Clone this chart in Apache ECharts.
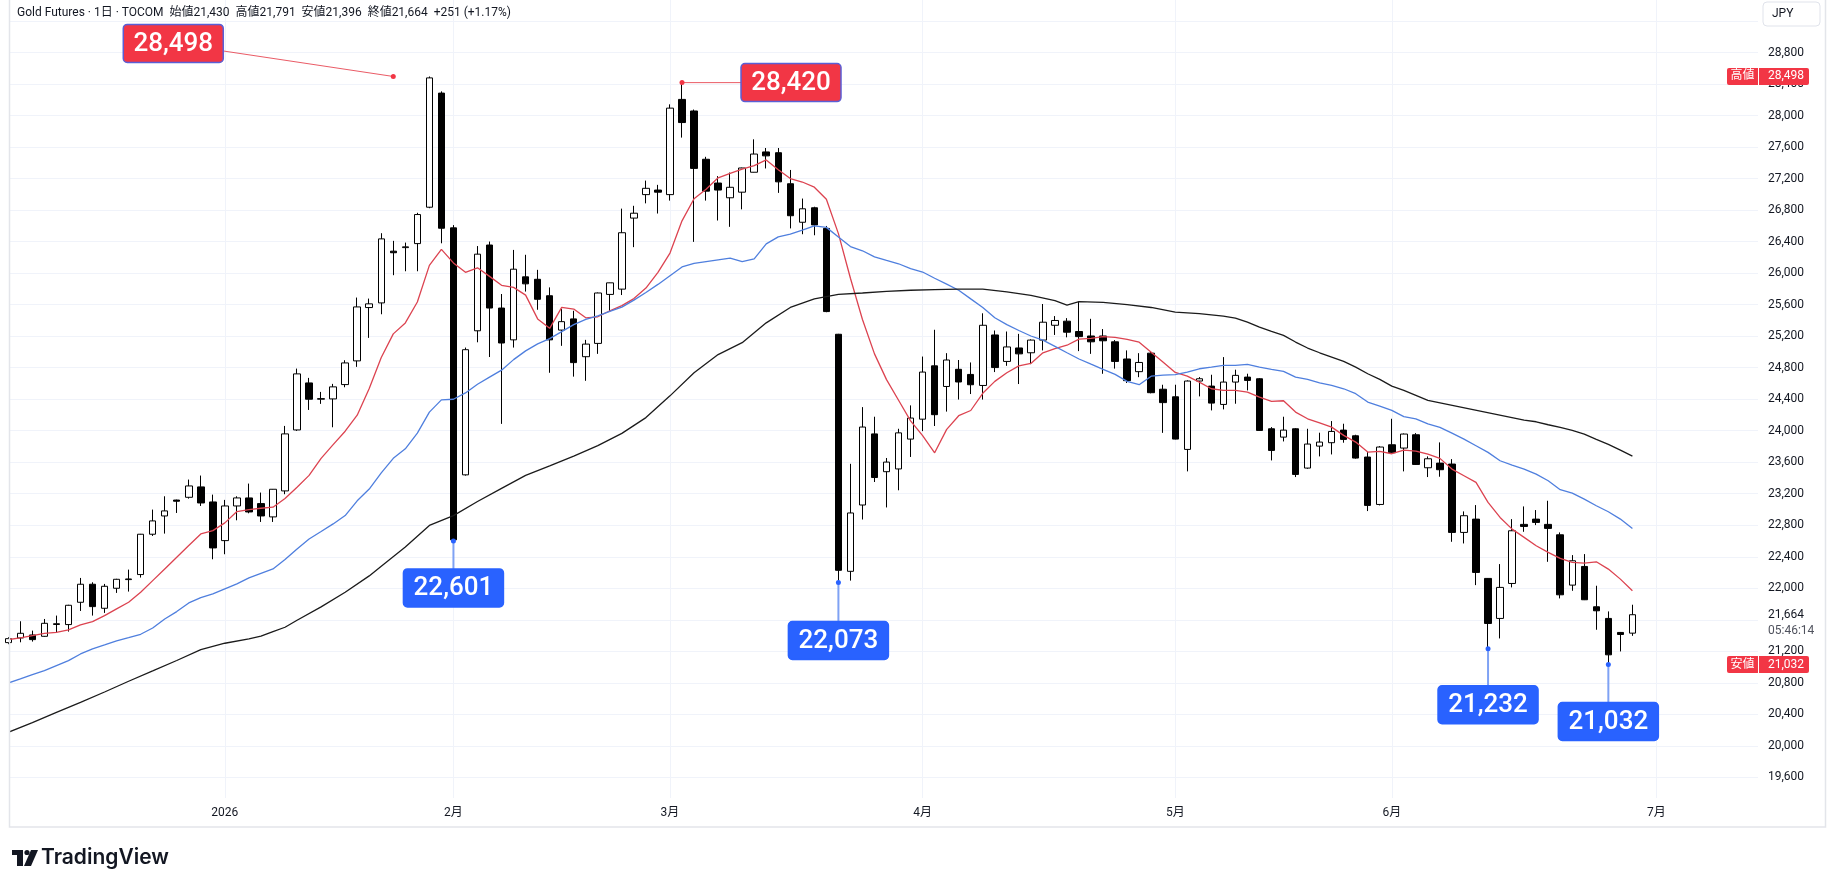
<!DOCTYPE html>
<html>
<head>
<meta charset="utf-8">
<title>Gold Futures 1D</title>
<script src="https://cdn.jsdelivr.net/npm/echarts@6/dist/echarts.min.js"></script>
<style>
  html, body { margin: 0; padding: 0; background: #ffffff; }
  #chart { width: 1827px; height: 887px; }
</style>
</head>
<body>
<div id="chart"></div>
<script>
// daily bars, index 0 = 2025-12-05 ... 135 = 2026-06-29
const opens = [21310,21369,21407,21390,21540,21539,21822,22051,21746,22000,
  22110,22174,22686,22918,23120,23155,23287,23096,22605,23045,
  23147,23075,22906,23236,24010,24607,24400,24404,24586,24887,
  25564,25623,26280,26325,26376,26838,28287,26576,23440,25269,
  26358,25558,25154,25954,25923,25714,25278,25420,24940,25109,
  25731,25798,26700,26998,27056,26998,28207,28060,27447,27145,
  26958,27029,27282,27540,27530,27136,26647,26831,26569,25225,
  22215,23057,23960,23480,23515,23894,24147,24824,24562,24780,
  24715,24575,25216,24880,25051,24990,25151,25339,25391,25260,
  25203,25203,25129,24911,24750,24985,24527,24431,23763,24631,
  24567,24334,24618,24681,24660,24025,23919,24025,23526,23805,
  23848,24008,23936,23666,23064,23822,23780,23949,23530,23589,
  23577,22709,22878,22125,21617,22061,22811,22878,22811,22679,
  22040,22277,21765,21617,21439,21430]
const closes = [21360,21428,21348,21555,21550,21784,22051,21767,22025,22114,
  22118,22686,22855,22982,23105,23299,23083,22512,23045,23147,
  22969,22918,23257,23960,24722,24400,24408,24557,24861,25572,
  25611,26436,26260,26335,26745,28480,26571,22615,25029,26242,
  25558,25114,26051,25865,25669,25154,25385,24865,25100,25749,
  25878,26514,26762,27078,27029,28096,27913,27331,27042,27056,
  27091,27336,27513,27490,27160,26730,26818,26613,25513,22228,
  22956,24047,23406,23602,23973,24161,24745,24204,24898,24619,
  24584,25339,24802,25064,24976,25151,25378,25400,25251,25195,
  25129,25142,24880,24636,24867,24483,24357,23894,24631,24660,
  24351,24618,24703,24639,24004,23750,24008,23445,23831,23856,
  23991,23890,23653,23052,23793,23721,23958,23572,23644,23505,
  22709,22921,22201,21553,22011,22730,22785,22836,22760,21917,
  22349,21854,21714,21155,21413,21664]
const lows = [21290,21314,21323,21385,21441,21450,21712,21653,21687,21941,
  21958,22136,22664,22694,22956,23138,23045,22368,22432,22863,
  22952,22842,22842,23194,23998,24264,24341,24044,24552,24811,
  25179,25479,25975,26025,26025,26825,26380,22601,23430,25123,
  24936,24087,25056,25767,25536,24736,25078,24687,24634,24976,
  25509,25723,26331,26887,26758,26922,27722,26398,26922,26669,
  26589,26811,27280,27330,27020,26569,26495,26482,25505,22073,
  22097,22873,23349,23026,23244,23667,23995,24060,24243,24396,
  24466,24396,24745,24824,24593,24845,25020,25216,25186,25011,
  24976,24723,24789,24606,24680,24475,23973,23890,23484,24436,
  24258,24271,24343,24512,24000,23623,23864,23412,23517,23674,
  23699,23848,23645,22980,23052,23715,23484,23565,23412,23416,
  22590,22569,22040,21232,21363,22011,22717,22802,22336,21871,
  21968,21850,21473,21032,21198,21396]
const highs = [21380,21581,21462,21610,21653,21790,22131,22076,22055,22120,
  22237,22690,22999,23168,23125,23380,23431,23189,23122,23168,
  23329,23215,23260,24061,24789,24671,24493,24595,24895,25691,
  25678,26508,26411,26389,26767,28498,28309,26611,25056,26345,
  26402,25736,26296,26234,26043,25820,25545,25523,25154,25755,
  25880,26820,26856,27176,27122,28144,28420,28078,27478,27233,
  27278,27340,27700,27590,27590,27311,26948,26844,26600,25230,
  23580,24300,24178,23654,24025,24322,24942,25282,24985,24898,
  24867,25491,25273,25260,25230,25160,25609,25456,25430,25640,
  25421,25291,25151,25020,24985,25011,24584,24584,24640,24681,
  24711,24935,24775,24724,24669,24046,24178,24034,24025,23975,
  24123,24089,23949,23729,23805,24152,23965,23970,23674,23852,
  23640,22976,23056,22130,22307,22878,23039,22993,23111,22709,
  22421,22434,22032,21706,21445,21791]

// moving averages
const maRed = [21348,21369,21399,21428,21441,21471,21534,21577,21653,21738,
  21822,21949,22097,22245,22394,22542,22690,22732,22830,22974,
  22999,23016,23029,23140,23283,23433,23650,23824,23994,24197,
  24535,24930,25230,25369,25634,26100,26303,26131,26011,26069,
  25960,25847,25820,25722,25420,25300,25567,25545,25434,25447,
  25523,25589,25678,25811,26011,26256,26665,26945,27065,27211,
  27269,27322,27367,27438,27315,27202,27158,27092,26940,26503,
  25936,25413,24976,24649,24387,24126,23938,23720,24017,24191,
  24257,24475,24627,24737,24824,24854,24990,25042,25086,25164,
  25173,25195,25186,25160,25125,24998,24870,24741,24694,24618,
  24533,24512,24512,24491,24427,24372,24381,24237,24152,24101,
  24046,23941,23856,23729,23737,23708,23755,23742,23702,23649,
  23513,23429,23344,23090,22899,22751,22646,22540,22455,22379,
  22328,22319,22336,22243,22116,21968]
const maBlue = [20798,20849,20904,20954,21018,21081,21166,21230,21280,21331,
  21373,21416,21496,21610,21704,21814,21881,21928,21991,22055,
  22131,22190,22245,22364,22499,22626,22720,22817,22923,23110,
  23260,23465,23650,23770,23970,24236,24392,24400,24480,24591,
  24680,24769,24903,25014,25103,25169,25258,25347,25414,25458,
  25516,25569,25658,25756,25858,25969,26080,26125,26147,26169,
  26191,26147,26182,26372,26461,26495,26547,26600,26582,26460,
  26338,26285,26207,26163,26120,26058,26015,25936,25862,25784,
  25674,25565,25435,25347,25273,25203,25151,25072,24990,24911,
  24845,24780,24715,24627,24584,24693,24705,24713,24745,24787,
  24808,24830,24830,24842,24808,24779,24753,24681,24652,24609,
  24576,24533,24470,24364,24313,24258,24180,24150,24087,24042,
  23970,23894,23810,23725,23619,23564,23513,23450,23365,23251,
  23208,23132,23048,22971,22878,22760]
// [bar, value] samples of the long average
const maBlack = [[0,20171],[2,20294],[4,20425],[6,20552],[8,20683],[10,20819],[12,20950],[14,21083],
  [16,21222],[18,21302],[20,21358],[21,21391],[22,21450],[23,21505],[24,21594],[26,21763],[28,21949],[30,22157],
  [31,22280],[33,22523],[35,22798],[37,22923],[39,23101],[41,23269],[43,23434],[45,23554],
  [47,23678],[49,23812],[51,23967],[53,24167],[55,24443],[57,24736],[59,24967],[61,25118],
  [63,25370],[65,25565],[67,25674],[69,25731],[71,25749],[73,25770],[75,25784],[77,25792],
  [79,25797],[81,25797],[83,25762],[85,25718],[87,25653],[88,25596],[89,25640],[91,25631],
  [93,25600],[95,25565],[97,25507],[99,25486],[101,25456],[102,25431],[103,25380],[104,25316],
  [105,25261],[106,25211],[107,25126],[108,25050],[109,24990],[110,24935],[111,24880],[112,24808],
  [113,24724],[114,24652],[115,24567],[116,24512],[117,24449],[118,24385],[126,24135],[127,24114],
  [128,24076],[129,24042],[130,24004],[131,23958],[132,23890],[133,23826],[134,23754],[135,23678]]

const monthBars = [18, 37, 55, 76, 97, 115, 137]
const monthLabels = ['2026', '2月', '3月', '4月', '5月', '6月', '7月']

const priceGrid = [19600,20000,20400,20800,21200,21600,22000,22400,22800,23200,23600,24000,
  24400,24800,25200,25600,26000,26400,26800,27200,27600,28000,28400,28800,29200]
const priceLabels = [19600,20000,20400,20800,21200,22000,22400,22800,23200,23600,24000,
  24400,24800,25200,25600,26000,26400,26800,27200,27600,28000,28400,28800]

const notes = [
  { bar: 32, price: 28498, kind: 'high' },
  { bar: 56, price: 28420, kind: 'high' },
  { bar: 37, price: 22601, kind: 'low' },
  { bar: 69, price: 22073, kind: 'low' },
  { bar: 123, price: 21232, kind: 'low' },
  { bar: 133, price: 21032, kind: 'low' }
]
const badges = [{ tag: '高値', price: 28498 }, { tag: '安値', price: 21032 }]
const countdown = '05:46:14'

const FONT = "Roboto, 'Noto Sans CJK JP', sans-serif"
const fmt = v => v.toLocaleString('en-US')

const chart = echarts.init(document.getElementById('chart'))

const candles = opens.map((o, i) => [i, o, closes[i], lows[i], highs[i]])
const lineStyle = (color) => ({ color: color, width: 1.3 })

const option = {
  backgroundColor: '#ffffff',
  animation: false,
  grid: { left: 10, top: 0, width: 1748, height: 798, outerBoundsMode: 'none' },
  xAxis: {
    type: 'value',
    min: 0.14,
    max: 145.44,
    axisLine: { show: false },
    axisTick: { show: false, customValues: monthBars },
    axisLabel: {
      customValues: monthBars,
      margin: 9,
      color: '#131722',
      fontSize: 12,
      fontFamily: FONT,
      formatter: v => monthLabels[monthBars.indexOf(v)]
    },
    splitLine: { show: true, lineStyle: { color: '#f0f3fa', width: 1 } }
  },
  yAxis: {
    type: 'value',
    position: 'right',
    min: 19337,
    max: 29469,
    axisLine: { show: false },
    axisTick: { show: false, customValues: priceGrid },
    axisLabel: {
      customValues: priceLabels,
      margin: 10,
      color: '#131722',
      fontSize: 12,
      fontFamily: FONT,
      formatter: v => fmt(v)
    },
    splitLine: { show: true, lineStyle: { color: '#f0f3fa', width: 1 } }
  },
  series: [
    {
      type: 'candlestick',
      data: candles,
      dimensions: ['bar', 'open', 'close', 'lowest', 'highest'],
      encode: { x: 'bar', y: ['open', 'close', 'lowest', 'highest'] },
      barWidth: 7,
      itemStyle: {
        color: '#ffffff',
        color0: '#000000',
        borderColor: '#000000',
        borderColor0: '#000000',
        borderColorDoji: '#000000',
        borderWidth: 1
      }
    },
    {
      type: 'line',
      data: maRed.map((v, i) => [i, v]),
      showSymbol: false,
      lineStyle: lineStyle('#dc4350')
    },
    {
      type: 'line',
      data: maBlue.map((v, i) => [i, v]),
      showSymbol: false,
      lineStyle: lineStyle('#4f7fde')
    },
    {
      type: 'line',
      data: maBlack,
      showSymbol: false,
      lineStyle: lineStyle('#1b1b1b')
    }
  ]
}
chart.setOption(option)

// overlays placed through the chart's own scales
const noteOffsets = [[-220, -33], [109, 0], [0, 47], [0, 58], [0, 56], [0, 57]]
const toPx = (x, y) => chart.convertToPixel({ gridIndex: 0 }, [x, y])
const graphics = []

// chart frame
graphics.push({ type: 'rect', shape: { x: 9.5, y: -2, width: 1816, height: 829 },
  style: { fill: 'none', stroke: '#e3e5ea', lineWidth: 1.5 }, z: 40 })

notes.forEach((n, k) => {
  const p = toPx(n.bar, n.price)
  const cx = p[0] + noteOffsets[k][0]
  const cy = p[1] + noteOffsets[k][1]
  const high = n.kind === 'high'
  const col = high ? '#f23645' : '#2962ff'
  graphics.push({ type: 'line', shape: { x1: p[0], y1: p[1], x2: cx, y2: cy },
    style: { stroke: high ? '#ea5b66' : '#7fa2f4', lineWidth: high ? 1 : 2 }, z: 50 })
  graphics.push({ type: 'circle', shape: { cx: p[0], cy: p[1], r: 2.5 }, style: { fill: col }, z: 51 })
  graphics.push({ type: 'rect', shape: { x: cx - 50, y: cy - 19, width: 100, height: 38, r: 4 },
    style: { fill: col, stroke: high ? '#5a5fd6' : col, lineWidth: 1.5 }, z: 52 })
  graphics.push({ type: 'text', x: cx, y: cy + 1,
    style: { text: fmt(n.price), fill: '#ffffff', font: '500 26px ' + FONT,
      align: 'center', verticalAlign: 'middle', textAlign: 'center', textVerticalAlign: 'middle' }, z: 53 })
})

badges.forEach(b => {
  const y = toPx(0, b.price)[1]
  graphics.push({ type: 'rect', shape: { x: 1727, y: y - 8.5, width: 31, height: 17, r: [2, 0, 0, 2] },
    style: { fill: '#f23645' }, z: 60 })
  graphics.push({ type: 'rect', shape: { x: 1759, y: y - 8.5, width: 50, height: 17, r: [0, 2, 2, 0] },
    style: { fill: '#f23645' }, z: 60 })
  graphics.push({ type: 'text', x: 1742.5, y: y,
    style: { text: b.tag, fill: '#fff', font: '12px ' + FONT, align: 'center', verticalAlign: 'middle',
      textAlign: 'center', textVerticalAlign: 'middle' }, z: 61 })
  graphics.push({ type: 'text', x: 1768, y: y,
    style: { text: fmt(b.price), fill: '#fff', font: '12px ' + FONT, align: 'left', verticalAlign: 'middle',
      textAlign: 'left', textVerticalAlign: 'middle' }, z: 61 })
})

const last = closes.length - 1
const lastY = toPx(last, closes[last])[1]
graphics.push({ type: 'text', x: 1768, y: lastY,
  style: { text: fmt(closes[last]), fill: '#131722', font: '12px ' + FONT, verticalAlign: 'middle', textVerticalAlign: 'middle' }, z: 61 })
graphics.push({ type: 'text', x: 1768, y: lastY + 16,
  style: { text: countdown, fill: '#50535e', font: '12px ' + FONT, verticalAlign: 'middle', textVerticalAlign: 'middle' }, z: 61 })

// currency box
graphics.push({ type: 'rect', shape: { x: 1763, y: 2, width: 57, height: 24, r: 4 },
  style: { fill: '#ffffff', stroke: '#e0e3eb', lineWidth: 1 }, z: 60 })
graphics.push({ type: 'text', x: 1772, y: 14,
  style: { text: 'JPY', fill: '#131722', font: '12px ' + FONT, verticalAlign: 'middle', textVerticalAlign: 'middle' }, z: 61 })

// legend line
const chg = closes[last] - closes[last - 1]
const pct = (chg / closes[last - 1] * 100).toFixed(2)
const header = 'Gold Futures · 1日 · TOCOM  始値' + fmt(opens[last]) + '  高値' + fmt(highs[last]) +
  '  安値' + fmt(lows[last]) + '  終値' + fmt(closes[last]) + '  ' + (chg >= 0 ? '+' : '') + chg +
  ' (' + (chg >= 0 ? '+' : '') + pct + '%)'
graphics.push({ type: 'text', x: 17, y: 13,
  style: { text: header, fill: '#131722', font: '12px ' + FONT, verticalAlign: 'middle', textVerticalAlign: 'middle' }, z: 61 })

// TradingView mark
graphics.push({ type: 'rect', shape: { x: 12, y: 850, width: 11, height: 5 }, style: { fill: '#131722' }, z: 61 })
graphics.push({ type: 'rect', shape: { x: 17, y: 850, width: 6, height: 16 }, style: { fill: '#131722' }, z: 61 })
graphics.push({ type: 'circle', shape: { cx: 27, cy: 852.5, r: 2.6 }, style: { fill: '#131722' }, z: 61 })
graphics.push({ type: 'polygon', shape: { points: [[31, 850], [38, 850], [31, 866], [24, 866]] }, style: { fill: '#131722' }, z: 61 })
graphics.push({ type: 'text', x: 41, y: 858,
  style: { text: 'TradingView', fill: '#131722', font: '600 21px Inter, Roboto, sans-serif', verticalAlign: 'middle', textVerticalAlign: 'middle' }, z: 61 })

chart.setOption({ graphic: graphics })
</script>
</body>
</html>
